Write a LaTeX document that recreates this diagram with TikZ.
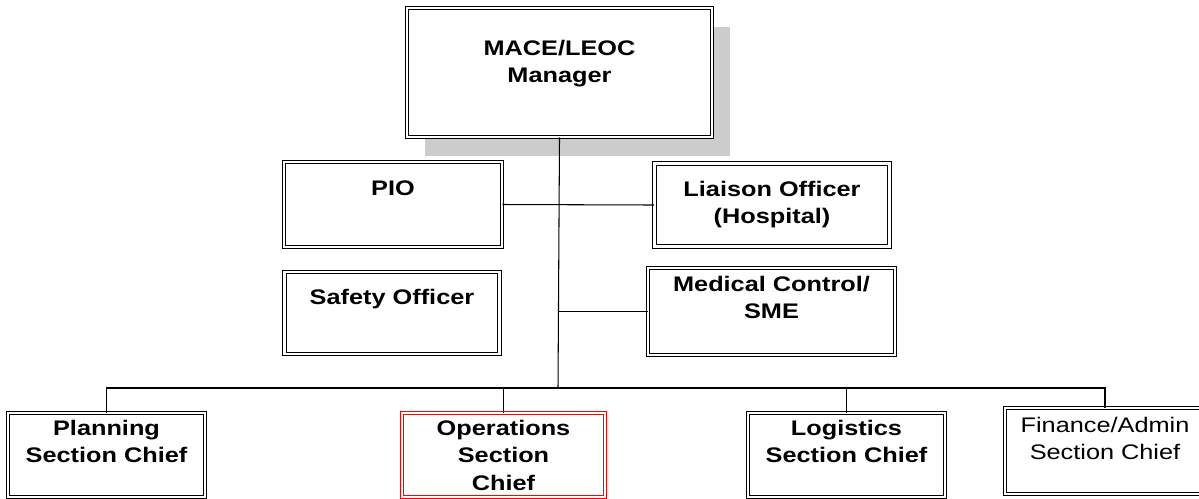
\documentclass[tikz,border=0pt]{standalone}
\usepackage{fontspec}
\setmainfont[FakeStretch=1.2]{Liberation Sans}
\usetikzlibrary{positioning,shadows}

\begin{document}
\begin{tikzpicture}[x=0.02cm,y=-0.02cm,
  box/.style={draw,double,double distance=1.5pt,line width=0.5pt,fill=white},
  redbox/.style={box,draw=red},
  lbl/.style={align=center,inner sep=0pt,font=\fontsize{12}{15.5}\selectfont\bfseries},
  plainlbl/.style={lbl,font=\fontsize{12}{15.5}\selectfont},
  wire/.style={line width=0.6pt}]
\useasboundingbox (0,0) rectangle (1199,498);
% manager
\node[box, minimum width=6.1cm, minimum height=2.58cm,
  drop shadow={shadow xshift=0.36cm,shadow yshift=-0.38cm,fill=black!20,opacity=1}] (mgr) at (559.5,72.5) {};
\node[lbl, below=0.65cm of mgr.north] (mgrT) {MACE/LEOC\\Manager};
% command staff
\node[box, minimum width=4.36cm, minimum height=1.7cm] (pio) at (393,204.5) {};
\node[lbl, below=0.37cm of pio.north] (pioT) {PIO};
\node[box, minimum width=4.7cm, minimum height=1.66cm] (liaison) at (772,205) {};
\node[lbl, below=0.35cm of liaison.north] (liaisonT) {Liaison Officer\\(Hospital)};
\node[box, minimum width=4.3cm, minimum height=1.64cm] (safety) at (392,313) {};
\node[lbl, below=0.35cm of safety.north] (safetyT) {Safety Officer};
\node[box, minimum width=4.94cm, minimum height=1.74cm] (medical) at (771.5,311.5) {};
\node[lbl, below=0.17cm of medical.north] (medicalT) {Medical Control/\\SME};
% section chiefs
\node[box, minimum width=3.94cm, minimum height=1.68cm] (planning) at (106.5,455) {};
\node[lbl, below=0.15cm of planning.north] (planningT) {Planning\\Section Chief};
\node[redbox, minimum width=4.06cm, minimum height=1.68cm] (ops) at (503.5,455) {};
\node[lbl, below=0.15cm of ops.north] (opsT) {Operations\\Section\\Chief};
\node[box, minimum width=3.94cm, minimum height=1.68cm] (logistics) at (846.5,455) {};
\node[lbl, below=0.15cm of logistics.north] (logisticsT) {Logistics\\Section Chief};
\node[box, minimum width=4.0cm, minimum height=1.72cm] (finance) at (1105,451) {};
\node[plainlbl, below=0.19cm of finance.north] (financeT) {Finance/Admin\\Section Chief};
% connectors
\coordinate (bus) at (558,388);
\draw[wire] (mgr.south) -- (bus);
\draw[wire] (pio.east) -- (liaison.west);
\draw[wire] (medical.west) -- (medical.west -| bus);
\draw[wire] (planning.north) |- (bus) -| (finance.north);
\draw[wire] (ops.north) -- (ops.north |- bus);
\draw[wire] (logistics.north) -- (logistics.north |- bus);
\end{tikzpicture}
\end{document}
